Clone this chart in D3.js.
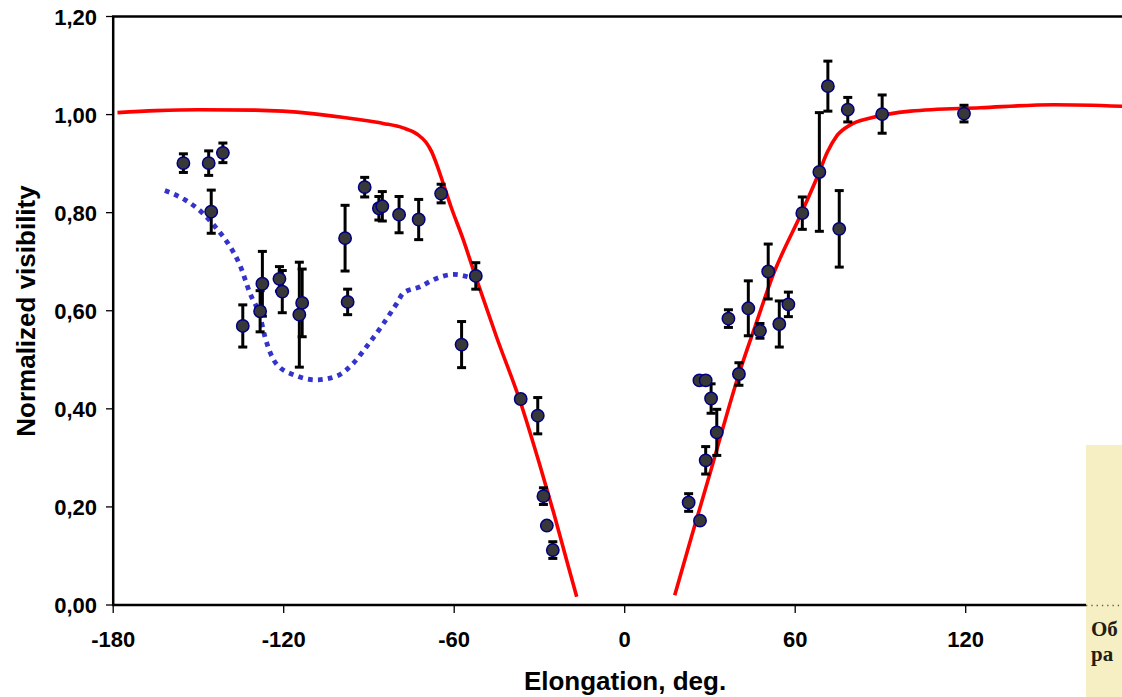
<!DOCTYPE html>
<html>
<head>
<meta charset="utf-8">
<script src="https://cdn.jsdelivr.net/npm/d3@7"></script>
<style>
  html, body { margin: 0; padding: 0; background: #fff; }
  svg { display: block; }
  .tick-label { font-family: "Liberation Sans", Arial, sans-serif; font-weight: bold; font-size: 22px; fill: #000; }
  .axis-title { font-family: "Liberation Sans", Arial, sans-serif; font-weight: bold; font-size: 26px; fill: #000; }
  .scan-text { font-family: "Liberation Serif", "Times New Roman", serif; font-weight: bold; font-size: 21px; fill: #221d14; }
</style>
</head>
<body>
<svg id="chart" width="1122" height="697"></svg>
<script>
// Measured visibility: elongation (deg), normalized visibility, error half-width
const elongation = [
  -155.3, -146.4, -141.4, -145.5, -134.4, -127.5, -128.3, -121.5, -120.5, -113.5,
  -114.5, -98.4, -97.5, -91.5, -86.5, -85.3, -79.4, -72.5, -64.6, -52.4,
  -57.4, -36.6, -30.6, -28.6, -27.4, -25.3,
  22.5, 26.5, 26.3, 28.5, 30.4, 32.4, 28.5, 36.5, 40.2, 43.5,
  47.6, 50.5, 54.4, 57.6, 62.5, 68.5, 71.5, 75.5, 78.5, 90.6, 119.4
];
const visibility = [
  0.901, 0.901, 0.922, 0.802, 0.569, 0.655, 0.599, 0.665, 0.639, 0.616,
  0.592, 0.748, 0.618, 0.852, 0.809, 0.813, 0.796, 0.786, 0.839, 0.671,
  0.531, 0.420, 0.386, 0.222, 0.162, 0.112,
  0.209, 0.172, 0.458, 0.458, 0.421, 0.352, 0.295, 0.584, 0.471, 0.605,
  0.559, 0.680, 0.573, 0.613, 0.799, 0.883, 1.058, 0.767, 1.010, 1.001, 1.002
];
const visibilityErr = [
  0.019, 0.025, 0.020, 0.044, 0.043, 0.066, 0.042, 0.025, 0.043, 0.069,
  0.107, 0.067, 0.026, 0.020, 0.024, 0.030, 0.037, 0.041, 0.019, 0.027,
  0.047, 0.006, 0.037, 0.017, 0.005, 0.017,
  0.018, 0.006, 0.006, 0.008, 0.030, 0.047, 0.028, 0.018, 0.023, 0.056,
  0.015, 0.056, 0.047, 0.025, 0.033, 0.121, 0.051, 0.078, 0.025, 0.039, 0.017
];

// Model curve, negative elongations
const modelWestDeg = [-178.5, -165, -150, -130, -110, -95, -85, -78, -73, -70, -68, -66, -64, -61, -57, -52.5, -45, -36.6, -30, -25, -20, -16.9];
const modelWestVal = [1.004, 1.008, 1.010, 1.009, 1.002, 0.991, 0.982, 0.973, 0.960, 0.944, 0.925, 0.896, 0.862, 0.810, 0.748, 0.670, 0.545, 0.412, 0.288, 0.188, 0.082, 0.017];
// Model curve, positive elongations
const modelEastDeg = [17.6, 23.5, 30, 40.2, 46, 52.3, 62.5, 68.5, 71.2, 74.7, 79.4, 86.5, 100.6, 125.3, 151, 180];
const modelEastVal = [0.020, 0.139, 0.268, 0.471, 0.570, 0.674, 0.803, 0.883, 0.922, 0.957, 0.979, 0.993, 1.007, 1.014, 1.020, 1.016];

// Dotted comparison curve
const altDeg = [-161.8, -154.7, -148.5, -143.8, -138.9, -135.4, -131.9, -128.3, -126.6, -122.5, -115.8, -108.7, -101.3, -95.5, -90.8, -84.9, -80.2, -77.9, -72.0, -66.2, -60.3, -54.4];
const altVal = [0.845, 0.826, 0.799, 0.769, 0.731, 0.693, 0.636, 0.588, 0.547, 0.491, 0.468, 0.459, 0.467, 0.493, 0.527, 0.574, 0.615, 0.636, 0.649, 0.666, 0.674, 0.668];

const xTicks = [-180, -120, -60, 0, 60, 120];
const yTicks = [0, 0.2, 0.4, 0.6, 0.8, 1.0, 1.2];

const svg = d3.select("#chart");
const x = d3.scaleLinear().domain([-180, 180]).range([113.2, 1136.2]);
const y = d3.scaleLinear().domain([0, 1.2]).range([605, 16.5]);
const fmt = v => d3.format(".2f")(v).replace(".", ",");

// Scanned page margin on the right
const paper = svg.append("g");
paper.append("rect").attr("x", 1086).attr("y", 445).attr("width", 36).attr("height", 252).attr("fill", "#f6efc3");
paper.append("text").attr("class", "scan-text").attr("x", 1091).attr("y", 636).text("Об");
paper.append("text").attr("class", "scan-text").attr("x", 1091).attr("y", 661).text("ра");
paper.append("line").attr("x1", 1086).attr("x2", 1122).attr("y1", 605.5).attr("y2", 605.5)
  .attr("stroke", "#5a5a50").attr("stroke-width", 1.3).attr("stroke-dasharray", "1.3,4");

// Frame: left axis, top border, bottom axis
const axisG = svg.append("g").attr("stroke", "#000");
axisG.append("line").attr("x1", 113.2).attr("x2", 113.2).attr("y1", 16.5).attr("y2", 605).attr("stroke-width", 2.5);
axisG.append("line").attr("x1", 112).attr("x2", 1122).attr("y1", 16.5).attr("y2", 16.5).attr("stroke-width", 2.5);
axisG.append("line").attr("x1", 112).attr("x2", 1086).attr("y1", 605).attr("y2", 605).attr("stroke-width", 2.5);

// Y ticks and labels
svg.append("g").selectAll("line").data(yTicks).join("line")
  .attr("x1", 106).attr("x2", 113).attr("y1", d => y(d)).attr("y2", d => y(d))
  .attr("stroke", "#000").attr("stroke-width", 1.3);
svg.append("g").selectAll("text").data(yTicks).join("text")
  .attr("class", "tick-label").attr("text-anchor", "end")
  .attr("x", 97).attr("y", d => y(d) + 8).text(fmt);

// X ticks and labels (plain hyphen for negatives)
svg.append("g").selectAll("line").data(xTicks).join("line")
  .attr("x1", d => x(d)).attr("x2", d => x(d)).attr("y1", 605).attr("y2", 613)
  .attr("stroke", "#000").attr("stroke-width", 1.3);
svg.append("g").selectAll("text").data(xTicks).join("text")
  .attr("class", "tick-label").attr("text-anchor", "middle")
  .attr("x", d => x(d)).attr("y", 647).text(d => String(d));

// Axis titles
svg.append("text").attr("class", "axis-title").attr("text-anchor", "middle")
  .attr("x", 625).attr("y", 690).text("Elongation, deg.");
svg.append("text").attr("class", "axis-title").attr("text-anchor", "middle")
  .attr("transform", "translate(35,311) rotate(-90)").text("Normalized visibility");

// Curves
const line = d3.line().x(d => x(d[0])).y(d => y(d[1])).curve(d3.curveMonotoneX);
svg.append("path").datum(d3.zip(altDeg, altVal)).attr("d", line)
  .attr("fill", "none").attr("stroke", "#3434cc").attr("stroke-width", 4.8).attr("stroke-dasharray", "4.8,5.2");
svg.append("path").datum(d3.zip(modelWestDeg, modelWestVal)).attr("d", line)
  .attr("fill", "none").attr("stroke", "#ff0000").attr("stroke-width", 3.6);
svg.append("path").datum(d3.zip(modelEastDeg, modelEastVal)).attr("d", line)
  .attr("fill", "none").attr("stroke", "#ff0000").attr("stroke-width", 3.6);

// Error bars and markers
const obs = elongation.map((e, i) => ({ e, v: visibility[i], s: visibilityErr[i] }));
const eb = svg.append("g").attr("stroke", "#000").attr("stroke-width", 3);
eb.selectAll("line.stem").data(obs).join("line").attr("class", "stem")
  .attr("x1", d => x(d.e)).attr("x2", d => x(d.e))
  .attr("y1", d => y(d.v + d.s)).attr("y2", d => y(d.v - d.s));
eb.selectAll("line.capTop").data(obs).join("line").attr("class", "capTop")
  .attr("x1", d => x(d.e) - 4.5).attr("x2", d => x(d.e) + 4.5)
  .attr("y1", d => y(d.v + d.s)).attr("y2", d => y(d.v + d.s));
eb.selectAll("line.capBot").data(obs).join("line").attr("class", "capBot")
  .attr("x1", d => x(d.e) - 4.5).attr("x2", d => x(d.e) + 4.5)
  .attr("y1", d => y(d.v - d.s)).attr("y2", d => y(d.v - d.s));
svg.append("g").selectAll("circle").data(obs).join("circle")
  .attr("cx", d => x(d.e)).attr("cy", d => y(d.v)).attr("r", 6.2)
  .attr("fill", "#383838").attr("stroke", "#000080").attr("stroke-width", 1.5);
</script>
</body>
</html>
